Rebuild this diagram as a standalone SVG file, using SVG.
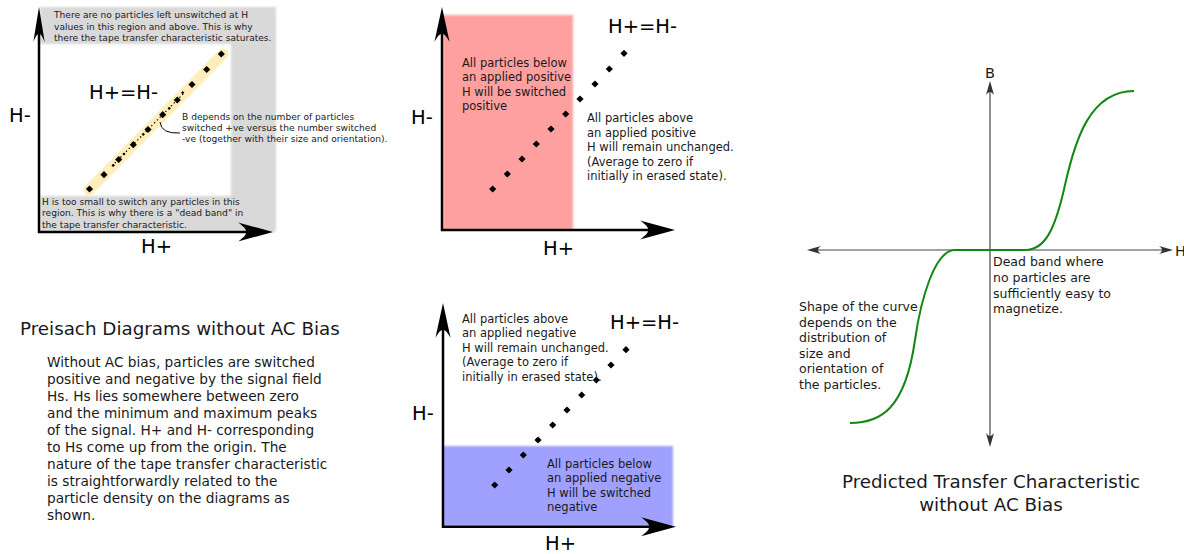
<svg xmlns="http://www.w3.org/2000/svg" xmlns:xlink="http://www.w3.org/1999/xlink" width="1184" height="554" viewBox="0 0 1184 554">
<style>
text{font-family:"DejaVu Sans","Noto Sans",sans-serif;fill:#1a1a1a}
.big{font-size:19.5px;fill:#000}
.sm{font-size:9.1px}
.md{font-size:11.5px}
.rt{font-size:12.5px}
.title{font-size:18.3px}
.body{font-size:13.7px}
.axis{stroke:#000;stroke-width:2.5;fill:none}
.raxis{stroke:#444;stroke-width:1.2;fill:none}
</style>
<defs>
<path id="ah" d="M0,0 L-35,-9.5 C-24,-2 -24,2 -35,9.5 Z" fill="#000"/>
<path id="ahs" d="M0,0 L-14,-4 C-10,-1 -10,1 -14,4 Z" fill="#333"/>
<path id="dm" d="M0,-3.6 L3.6,0 L0,3.6 L-3.6,0 Z" fill="#000"/>
<path id="dmsm" d="M0,-1.6 L1.6,0 L0,1.6 L-1.6,0 Z" fill="#000"/>
<filter id="soft" x="-5%" y="-5%" width="110%" height="110%"><feGaussianBlur stdDeviation="0.9"/></filter>
</defs>

<g id="panel-top-left">
<g filter="url(#soft)" fill="#d9d9d9">
<rect x="40" y="7" width="236" height="37"/>
<rect x="231" y="44" width="45" height="188"/>
<rect x="40" y="196" width="191" height="36"/>
</g>
<line x1="89" y1="190" x2="223" y2="54" stroke="#ffeeba" stroke-width="11" stroke-linecap="round"/>
<line x1="112" y1="166" x2="185" y2="92" stroke="#000" stroke-width="1.2" stroke-dasharray="1.4,2.6"/>
<use xlink:href="#dm" x="89.5" y="189"/>
<use xlink:href="#dm" x="104" y="174.7"/>
<use xlink:href="#dm" x="118.7" y="159.5"/>
<use xlink:href="#dm" x="133.3" y="144.7"/>
<use xlink:href="#dm" x="148" y="129.5"/>
<use xlink:href="#dm" x="162.7" y="114.7"/>
<use xlink:href="#dm" x="177.3" y="100"/>
<use xlink:href="#dm" x="192" y="84.5"/>
<use xlink:href="#dm" x="206.7" y="69.5"/>
<use xlink:href="#dm" x="221.3" y="54"/>
<use xlink:href="#dmsm" x="113.3" y="165.3"/>
<use xlink:href="#dmsm" x="124" y="154"/>
<use xlink:href="#dmsm" x="143.3" y="134.3"/>
<use xlink:href="#dmsm" x="169.3" y="108.3"/>
<use xlink:href="#dmsm" x="182.7" y="92.7"/>
<path d="M160,122 Q161,134 180,133" fill="none" stroke="#000" stroke-width="1"/>
<line class="axis" x1="39" y1="233" x2="39" y2="30"/>
<line class="axis" x1="38" y1="232" x2="250" y2="232"/>
<use xlink:href="#ah" transform="translate(39,7) rotate(-90) scale(1,0.6)"/>
<use xlink:href="#ah" transform="translate(273,232)"/>
<text class="sm" x="54" y="18">There are no particles left unswitched at H</text>
<text class="sm" x="54" y="29.5">values in this region and above. This is why</text>
<text class="sm" x="54" y="41">there the tape transfer characteristic saturates.</text>
<text class="big" x="89" y="99">H+=H-</text>
<text class="big" x="9" y="122">H-</text>
<text class="sm" x="182" y="120">B depends on the number of particles</text>
<text class="sm" x="182" y="131">switched +ve versus the number switched</text>
<text class="sm" x="182" y="142">-ve (together with their size and orientation).</text>
<text class="sm" x="42" y="204.5">H is too small to switch any particles in this</text>
<text class="sm" x="42" y="216">region. This is why there is a "dead band" in</text>
<text class="sm" x="42" y="227.5">the tape transfer characteristic.</text>
<text class="big" x="141" y="253">H+</text>
</g>

<g id="panel-top-middle">
<rect x="443" y="15" width="130" height="215" fill="#ffa0a0" filter="url(#soft)"/>
<use xlink:href="#dm" x="492.7" y="189"/>
<use xlink:href="#dm" x="507.3" y="174"/>
<use xlink:href="#dm" x="522" y="159"/>
<use xlink:href="#dm" x="536.3" y="144"/>
<use xlink:href="#dm" x="551" y="129"/>
<use xlink:href="#dm" x="565.7" y="114"/>
<use xlink:href="#dm" x="580" y="99"/>
<use xlink:href="#dm" x="595" y="84"/>
<use xlink:href="#dm" x="609.3" y="69"/>
<use xlink:href="#dm" x="624" y="53.3"/>
<line class="axis" x1="442" y1="231" x2="442" y2="30"/>
<line class="axis" x1="441" y1="230" x2="650" y2="230"/>
<use xlink:href="#ah" transform="translate(442,7) rotate(-90) scale(1,0.8)"/>
<use xlink:href="#ah" transform="translate(675,230)"/>
<text class="big" x="608" y="33">H+=H-</text>
<text class="big" x="411" y="124">H-</text>
<text class="big" x="543" y="255">H+</text>
<text class="md" x="462" y="66.5">All particles below</text>
<text class="md" x="462" y="81">an applied positive</text>
<text class="md" x="462" y="95.5">H will be switched</text>
<text class="md" x="462" y="110">positive</text>
<text class="md" x="587" y="122">All particles above</text>
<text class="md" x="587" y="136.5">an applied positive</text>
<text class="md" x="587" y="151">H will remain unchanged.</text>
<text class="md" x="587" y="165.5">(Average to zero if</text>
<text class="md" x="587" y="180">initially in erased state).</text>
</g>

<g id="panel-bottom-middle">
<rect x="443" y="446" width="230" height="80" fill="#a0a0ff" filter="url(#soft)"/>
<use xlink:href="#dm" x="494.7" y="485"/>
<use xlink:href="#dm" x="509" y="470"/>
<use xlink:href="#dm" x="523.3" y="455"/>
<use xlink:href="#dm" x="538" y="440"/>
<use xlink:href="#dm" x="552.7" y="425"/>
<use xlink:href="#dm" x="567" y="410"/>
<use xlink:href="#dm" x="581.7" y="395"/>
<use xlink:href="#dm" x="596.3" y="380"/>
<use xlink:href="#dm" x="611" y="365"/>
<use xlink:href="#dm" x="626" y="349.7"/>
<line class="axis" x1="443" y1="528" x2="443" y2="325"/>
<line class="axis" x1="442" y1="526.7" x2="652" y2="526.7"/>
<use xlink:href="#ah" transform="translate(443,303) rotate(-90) scale(1,0.8)"/>
<use xlink:href="#ah" transform="translate(676,526.7)"/>
<text class="big" x="610" y="329">H+=H-</text>
<text class="big" x="412" y="420">H-</text>
<text class="big" x="545" y="550">H+</text>
<text class="md" x="462" y="322.5">All particles above</text>
<text class="md" x="462" y="337">an applied negative</text>
<text class="md" x="462" y="351.5">H will remain unchanged.</text>
<text class="md" x="462" y="366">(Average to zero if</text>
<text class="md" x="462" y="380.5">initially in erased state).</text>
<text class="md" x="547" y="467.5">All particles below</text>
<text class="md" x="547" y="482">an applied negative</text>
<text class="md" x="547" y="496.5">H will be switched</text>
<text class="md" x="547" y="511">negative</text>
</g>

<g id="panel-left-text">
<text class="title" x="20" y="335">Preisach Diagrams without AC Bias</text>
<text class="body" x="47" y="367">Without AC bias, particles are switched</text>
<text class="body" x="47" y="384">positive and negative by the signal field</text>
<text class="body" x="47" y="401">Hs. Hs lies somewhere between zero</text>
<text class="body" x="47" y="418">and the minimum and maximum peaks</text>
<text class="body" x="47" y="435">of the signal. H+ and H- corresponding</text>
<text class="body" x="47" y="452">to Hs come up from the origin. The</text>
<text class="body" x="47" y="469">nature of the tape transfer characteristic</text>
<text class="body" x="47" y="486">is straightforwardly related to the</text>
<text class="body" x="47" y="503">particle density on the diagrams as</text>
<text class="body" x="47" y="520">shown.</text>
</g>

<g id="panel-right">
<line class="raxis" x1="990" y1="90" x2="990" y2="438"/>
<line class="raxis" x1="815" y1="250" x2="1164" y2="250"/>
<use xlink:href="#ahs" transform="translate(990,81) rotate(-90)"/>
<use xlink:href="#ahs" transform="translate(990,447) rotate(90)"/>
<use xlink:href="#ahs" transform="translate(807,250) rotate(180)"/>
<use xlink:href="#ahs" transform="translate(1173,250)"/>
<path d="M850,423 C880,423 905,410 915,340 C921,298 935,250 955,250 L1025,250 C1045,250 1055,230 1065,185 C1075,140 1090,91 1134,91" fill="none" stroke="#118811" stroke-width="2"/>
<text x="985" y="78" style="font-size:14.5px">B</text>
<text x="1175" y="256" style="font-size:14.5px">H</text>
<text class="rt" x="993" y="266">Dead band where</text>
<text class="rt" x="993" y="282">no particles are</text>
<text class="rt" x="993" y="297.5">sufficiently easy to</text>
<text class="rt" x="993" y="313">magnetize.</text>
<text class="rt" x="799" y="311">Shape of the curve</text>
<text class="rt" x="799" y="326.5">depends on the</text>
<text class="rt" x="799" y="342">distribution of</text>
<text class="rt" x="799" y="357.5">size and</text>
<text class="rt" x="799" y="373">orientation of</text>
<text class="rt" x="799" y="388.5">the particles.</text>
<text class="title" x="991" y="488" text-anchor="middle">Predicted Transfer Characteristic</text>
<text class="title" x="991" y="511" text-anchor="middle">without AC Bias</text>
</g>
</svg>
